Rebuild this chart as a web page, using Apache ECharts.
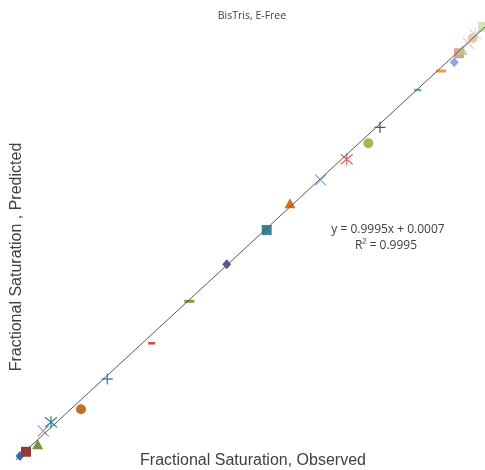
<!DOCTYPE html>
<html>
<head>
<meta charset="utf-8">
<script src="https://cdn.jsdelivr.net/npm/echarts@6/dist/echarts.min.js"></script>
<style>html,body{margin:0;padding:0;background:#fff}#c{width:485px;height:470px}</style>
</head>
<body>
<div id="c"></div>
<script>
// ---- data ----
const observed  = [0.0085,0.0213,0.0463,0.0582,0.0746,0.1386,0.1947,0.2893,0.3695,0.4493,0.5345,0.5842,0.6497,0.7051,0.7512,0.7761,0.8565,0.9062,0.9345,0.9446,0.9516,0.9644,0.9738,0.9790,0.9960];
const predicted = [0.0092,0.0191,0.0362,0.0670,0.0871,0.1171,0.1871,0.2695,0.3665,0.4520,0.5312,0.5928,0.6467,0.6945,0.7314,0.7684,0.8545,0.8984,0.9185,0.9393,0.9469,0.9624,0.9739,0.9830,1.0000];
const markerKinds = ['diamond','square','triangle','x','star','circle','plus','dashS','dashL','diamond','square','triangle','x','star','circle','plus','dashS','dashL','diamond','square','triangle','x','circle','star','square'];
const trendSlope = 0.9995;
const trendIntercept = 0.0007;
const trendRange = [0, 1];
const titleText = 'BisTris, E-Free';
const xTitle = 'Fractional Saturation, Observed';
const yTitle = 'Fractional Saturation , Predicted';
const eqLines = ['y = 0.9995x + 0.0007', 'R\u00B2 = 0.9995'];

// ---- styles ----
const markerColors = ['#3C6CB0','#953735','#77933C','#B3A2C7','#31859C','#C0702A','#4F81BD','#C0504D','#7AA02E','#6A4F93','#31859C','#E46C0A','#8EB4E3','#E06666','#9BBB59','#604A7B','#4BACC6','#F79646','#7FA2D8','#C98A88','#B5CF86','#C4BBDD','#F9B98A','#A9D3E3','#C6DBA2'];
const markerOpacity = [1,1,1,1,1,1,1,1,1,1,1,1,1,1,1,1,1,1,0.9,0.8,0.8,0.7,0.8,0.6,0.8];

const shapeDefs = {
  diamond:  {symbol:'diamond', size:[9,10], stroke:false},
  square:   {symbol:'rect', size:10, stroke:false},
  triangle: {symbol:'triangle', size:[11,10], stroke:false},
  circle:   {symbol:'circle', size:10, stroke:false},
  x:        {symbol:'path://M0,0L10,10M10,0L0,10', size:11, stroke:true},
  plus:     {symbol:'path://M5,0L5,10M0,5L10,5', size:11, stroke:true},
  star:     {symbol:'path://M0,0L10,10M10,0L0,10M5,-1L5,11', size:12, stroke:true},
  dashS:    {symbol:'rect', size:[7,2.5], stroke:false},
  dashL:    {symbol:'rect', size:[10,3], stroke:false}
};

const series = observed.map((ox, i) => {
  const d = shapeDefs[markerKinds[i]];
  const c = markerColors[i];
  return {
    type: 'scatter',
    data: [[ox, predicted[i]]],
    symbol: d.symbol,
    symbolSize: d.size,
    z: 2,
    itemStyle: d.stroke
      ? {color: 'rgba(0,0,0,0)', borderColor: c, borderWidth: 1.3, opacity: markerOpacity[i]}
      : {color: c, opacity: markerOpacity[i]},
    emphasis: {disabled: true}
  };
});

series.push({
  type: 'line',
  data: trendRange.map(x => [x, trendSlope * x + trendIntercept]),
  showSymbol: false,
  symbol: 'none',
  lineStyle: {color: '#5A5A5A', width: 1},
  z: 5,
  silent: true
});

const chart = echarts.init(document.getElementById('c'), null, {renderer: 'canvas'});
chart.setOption({
  animation: false,
  backgroundColor: '#ffffff',
  grid: {left: 16, right: 0, top: 27, bottom: 10, containLabel: false},
  xAxis: {
    type: 'value', min: 0, max: 1,
    axisLine: {show: false}, axisTick: {show: false}, axisLabel: {show: false}, splitLine: {show: false}
  },
  yAxis: {
    type: 'value', min: 0, max: 1,
    axisLine: {show: false}, axisTick: {show: false}, axisLabel: {show: false}, splitLine: {show: false}
  },
  graphic: [
    {type: 'text', x: 252, y: 16, style: {text: titleText, align: 'center', verticalAlign: 'middle', fontFamily: 'Open Sans', fontSize: 10.5, fill: '#404040'}},
    {type: 'text', x: 253, y: 461, style: {text: xTitle, align: 'center', verticalAlign: 'middle', fontFamily: 'Liberation Sans', fontSize: 16, fill: '#404040'}},
    {type: 'text', rotation: Math.PI/2, x: 17, y: 257, style: {text: yTitle, align: 'center', verticalAlign: 'middle', fontFamily: 'Liberation Sans', fontSize: 16, fill: '#404040'}},
    {type: 'text', x: 388, y: 230, style: {text: eqLines[0], align: 'center', verticalAlign: 'middle', fontFamily: 'Open Sans', fontSize: 12, fill: '#404040'}},
    {type: 'text', x: 386, y: 246, style: {text: eqLines[1], align: 'center', verticalAlign: 'middle', fontFamily: 'Open Sans', fontSize: 12, fill: '#404040'}}
  ],
  series: series
});
</script>
</body>
</html>
